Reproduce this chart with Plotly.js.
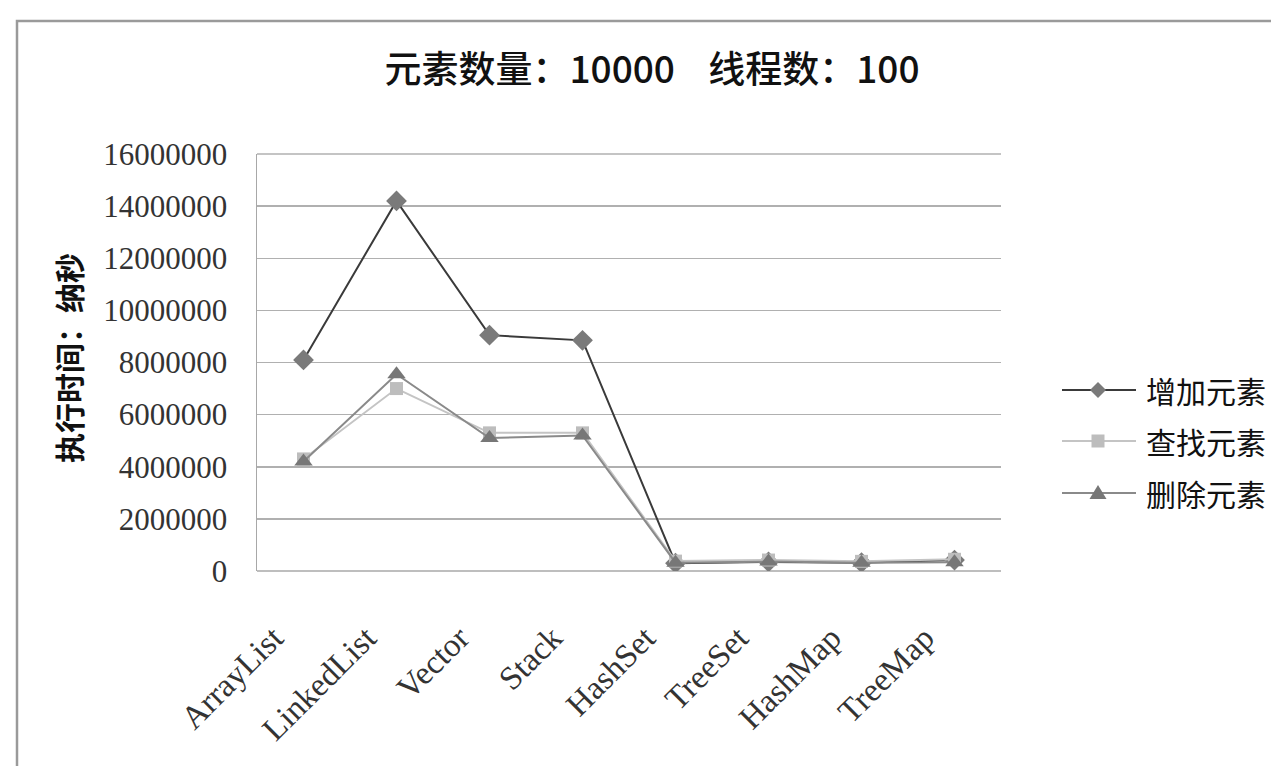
<!DOCTYPE html>
<html>
<head>
<meta charset="utf-8">
<script src="https://cdn.plot.ly/plotly-3.0.1.min.js"></script>
<style>html,body{margin:0;padding:0;background:#fff;}#chart{width:1271px;height:766px;}</style>
</head>
<body>
<div id="chart"></div>
<script>
const categories = ['ArrayList','LinkedList','Vector','Stack','HashSet','TreeSet','HashMap','TreeMap'];
const seriesNames = ['增加元素','查找元素','删除元素'];
const addValues = [8100000, 14200000, 9050000, 8850000, 300000, 350000, 320000, 420000];
const findValues = [4300000, 7000000, 5300000, 5300000, 380000, 420000, 370000, 450000];
const deleteValues = [4200000, 7550000, 5100000, 5200000, 320000, 360000, 320000, 340000];
const yTickValues = [0, 2000000, 4000000, 6000000, 8000000, 10000000, 12000000, 14000000, 16000000];
const titleText = '元素数量：10000&nbsp;&nbsp;&nbsp;&nbsp;线程数：100';
const yTitleText = '执行时间：纳秒';

const cjk = '"Noto Sans CJK SC", "Noto Sans", sans-serif';
const serif = '"Liberation Serif", "DejaVu Serif", serif';

const lineColors = ['#3a3a3a', '#c4c4c4', '#8a8a8a'];
const markerColors = ['#7a7a7a', '#bdbdbd', '#777777'];
const markerSymbols = ['diamond', 'square', 'triangle-up'];
const markerSizes = [16, 13, 16];
const seriesValues = [addValues, findValues, deleteValues];

const traces = seriesValues.map((vals, i) => ({
  x: categories, y: vals, name: seriesNames[i], type: 'scatter', mode: 'lines+markers',
  line: {color: lineColors[i], width: 2},
  marker: {symbol: markerSymbols[i], size: markerSizes[i], color: markerColors[i]}
}));

// plot area in pixels: x 257..1001, y 154..571
const px = v => (v - 257) / 744;
const py = v => (571 - v) / 417;

const shapes = [
  {type: 'rect', xref: 'paper', yref: 'paper', x0: px(17), x1: px(1300), y0: py(800), y1: py(21),
   line: {color: '#9a9a9a', width: 2.5}, fillcolor: 'rgba(0,0,0,0)', layer: 'below'},
  {type: 'line', xref: 'paper', yref: 'paper', x0: 0, x1: 1, y0: 1, y1: 1, line: {color: '#b0b0b0', width: 1.5}, layer: 'below'},
  {type: 'line', xref: 'paper', yref: 'paper', x0: 0, x1: 1, y0: 0, y1: 0, line: {color: '#a8a8a8', width: 1.5}, layer: 'below'}
];
const annotations = [
  {text: yTitleText, xref: 'paper', yref: 'paper', x: px(68), y: py(358), xanchor: 'center', yanchor: 'middle',
   textangle: -90, showarrow: false, font: {family: cjk, size: 30, color: '#111', weight: 'bold'}}
];

// custom legend (long line samples as in the reference)
const legendY = [390, 441, 493];
legendY.forEach((yy, i) => {
  shapes.push({type: 'line', xref: 'paper', yref: 'paper', x0: px(1062), x1: px(1136), y0: py(yy), y1: py(yy),
               line: {color: lineColors[i], width: 2}});
  const cx = 1098, h = 8;
  let path;
  if (i === 0) path = `M${px(cx)},${py(yy - h)} L${px(cx + h)},${py(yy)} L${px(cx)},${py(yy + h)} L${px(cx - h)},${py(yy)} Z`;
  else if (i === 1) path = `M${px(cx - 6.5)},${py(yy - 6.5)} L${px(cx + 6.5)},${py(yy - 6.5)} L${px(cx + 6.5)},${py(yy + 6.5)} L${px(cx - 6.5)},${py(yy + 6.5)} Z`;
  else path = `M${px(cx)},${py(yy - 8)} L${px(cx + 8.5)},${py(yy + 6)} L${px(cx - 8.5)},${py(yy + 6)} Z`;
  shapes.push({type: 'path', xref: 'paper', yref: 'paper', path: path, fillcolor: markerColors[i], line: {width: 0}});
  annotations.push({text: seriesNames[i], xref: 'paper', yref: 'paper', x: px(1144), y: py(yy), xanchor: 'left', yanchor: 'middle',
                    showarrow: false, font: {family: cjk, size: 30, color: '#111'}});
});

const layout = {
  width: 1271, height: 766,
  margin: {l: 257, r: 270, t: 154, b: 195},
  paper_bgcolor: '#ffffff', plot_bgcolor: '#ffffff',
  title: {text: titleText, font: {family: cjk, size: 37, color: '#111', weight: 500},
          x: 0.513, xanchor: 'center', y: 0.908, yanchor: 'middle'},
  xaxis: {type: 'category', range: [-0.5, 7.5], showgrid: false, showline: false, zeroline: false,
          tickangle: -45, ticks: '', ticklabelstandoff: 40, ticklabelshift: -30,
          tickfont: {family: serif, size: 33, color: '#333'}, fixedrange: true},
  yaxis: {range: [0, 16000000], tickvals: yTickValues, tickformat: 'd', showgrid: true, gridcolor: '#b0b0b0', gridwidth: 1.5,
          showline: true, linecolor: '#a8a8a8', linewidth: 1.5, zeroline: false, ticks: '',
          ticklabelstandoff: 22, tickfont: {family: serif, size: 31, color: '#333'}},
  showlegend: false,
  shapes: shapes,
  annotations: annotations
};

Plotly.newPlot('chart', traces, layout, {displayModeBar: false, staticPlot: true});
</script>
</body>
</html>
